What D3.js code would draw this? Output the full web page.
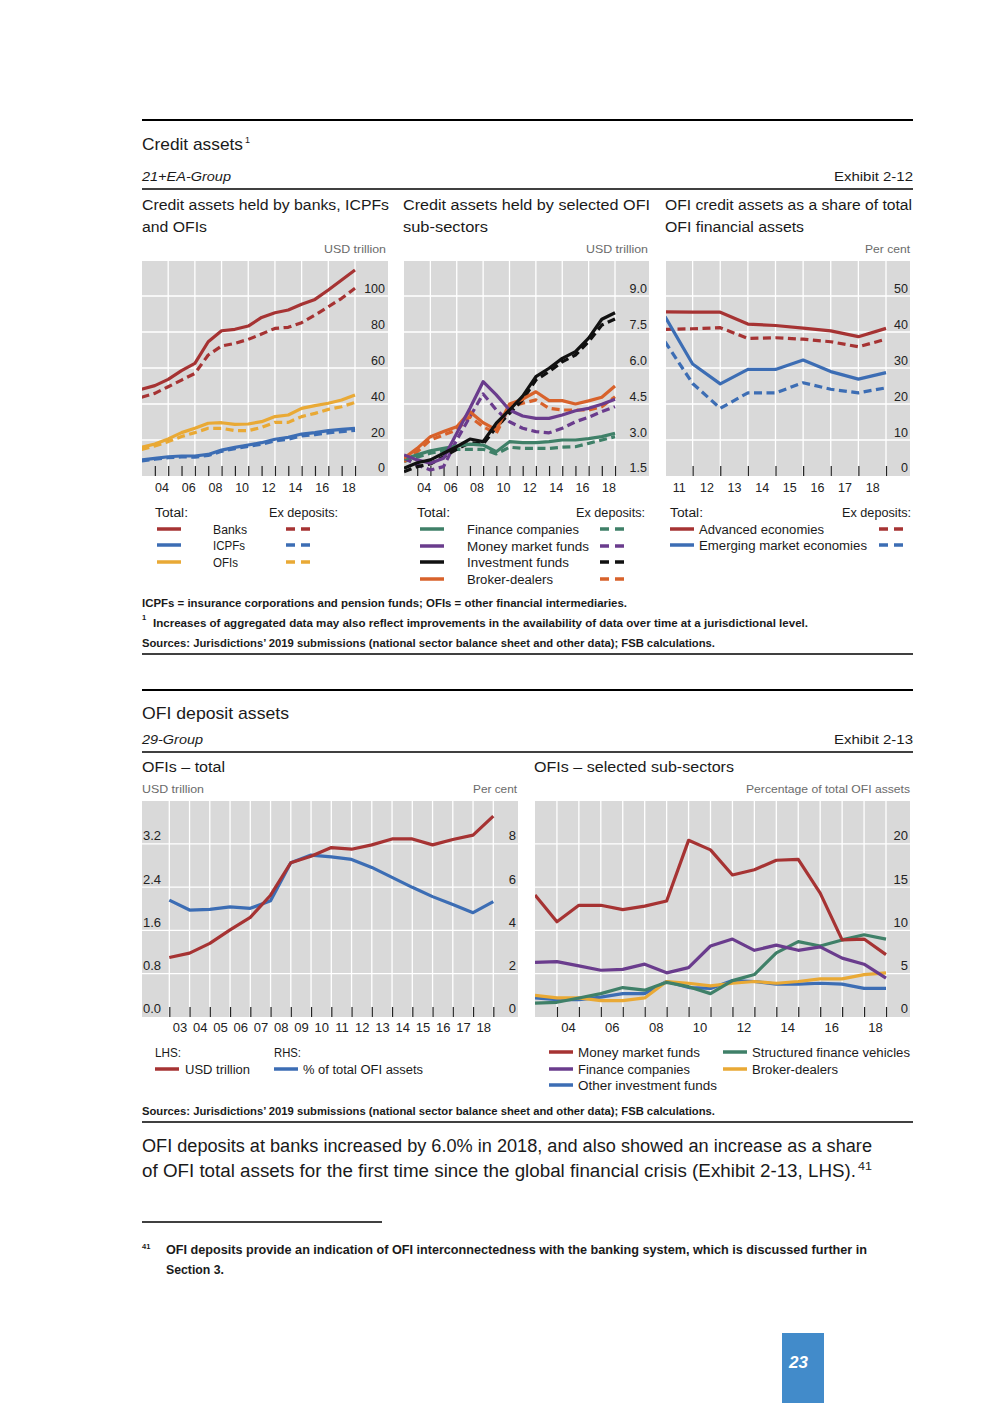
<!DOCTYPE html>
<html>
<head>
<meta charset="utf-8">
<script src="https://cdn.jsdelivr.net/npm/d3@7"></script>
<style>
  body { margin: 0; background: #fff; }
  text { font-family: "Liberation Sans", Arial, sans-serif; }
</style>
</head>
<body>
<svg id="page" width="992" height="1403"></svg>
<script>
// ---- Exhibit 2-12 data (USD trillion / per cent) ----
const years02 = [2002, 2003, 2004, 2005, 2006, 2007, 2008, 2009, 2010, 2011, 2012, 2013, 2014, 2015, 2016, 2017, 2018];
const years10 = [2010, 2011, 2012, 2013, 2014, 2015, 2016, 2017, 2018];

const banksTotal = [48.2, 50.2, 53.7, 58.5, 62.6, 74.6, 80.7, 81.5, 83.3, 88.1, 90.7, 92.2, 95.4, 98.1, 103.3, 108.9, 114.4];
const banksExDep = [43.7, 45.9, 49.6, 53.3, 57.0, 67.2, 72.2, 73.7, 75.9, 78.9, 82.0, 82.6, 85.2, 89.4, 94.0, 98.7, 104.3];
const icpfTotal  = [8.9, 9.8, 10.7, 11.1, 11.1, 12.0, 14.4, 15.9, 17.2, 18.5, 20.4, 21.5, 23.3, 24.1, 25.2, 25.9, 26.5];
const icpfExDep  = [8.4, 9.3, 10.2, 10.6, 10.5, 11.4, 13.7, 15.2, 16.4, 17.7, 19.5, 20.5, 22.3, 23.0, 24.0, 24.7, 25.3];
const ofiTotal   = [15.9, 17.8, 20.6, 24.1, 26.5, 29.3, 29.6, 28.7, 28.9, 30.2, 33.0, 33.9, 37.6, 39.1, 40.4, 42.2, 45.0];
const ofiExDep   = [14.8, 16.7, 19.1, 21.9, 24.1, 26.5, 26.5, 25.2, 25.2, 27.0, 29.8, 29.8, 33.0, 34.8, 37.0, 38.5, 40.9];

const finCoTotal = [2.20, 2.38, 2.55, 2.65, 2.75, 2.83, 2.79, 2.51, 2.93, 2.89, 2.89, 2.93, 3.00, 3.00, 3.06, 3.14, 3.28];
const finCoExDep = [2.10, 2.28, 2.45, 2.55, 2.61, 2.61, 2.61, 2.42, 2.70, 2.65, 2.65, 2.65, 2.70, 2.72, 2.86, 3.00, 3.14];
const mmfTotal   = [2.38, 2.17, 2.03, 2.24, 3.28, 4.32, 5.43, 4.88, 4.25, 4.00, 3.90, 3.90, 4.04, 4.22, 4.32, 4.49, 4.70];
const mmfExDep   = [2.24, 1.96, 1.75, 1.89, 3.00, 3.97, 4.92, 4.25, 3.76, 3.49, 3.35, 3.30, 3.49, 3.76, 3.95, 4.18, 4.39];
const invTotal   = [1.82, 2.05, 2.17, 2.45, 2.72, 3.04, 2.93, 3.70, 4.25, 4.83, 5.64, 5.99, 6.40, 6.68, 7.24, 8.03, 8.30];
const invExDep   = [1.68, 1.89, 2.00, 2.30, 2.61, 2.89, 2.83, 3.53, 4.11, 4.67, 5.50, 5.85, 6.26, 6.54, 7.10, 7.79, 8.04];
const bdTotal    = [2.24, 2.65, 3.14, 3.35, 3.55, 4.18, 3.72, 3.42, 4.50, 4.70, 5.01, 4.64, 4.64, 4.50, 4.63, 4.78, 5.25];
const bdExDep    = [2.10, 2.51, 3.00, 3.21, 3.42, 3.97, 3.55, 3.28, 4.39, 4.53, 4.67, 4.32, 4.25, 4.25, 4.25, 4.39, 4.80];

const aeTotal  = [45.6, 45.5, 45.5, 42.2, 41.8, 41.1, 40.3, 38.7, 41.0];
const aeExDep  = [40.7, 40.9, 41.2, 38.2, 38.4, 38.0, 37.3, 35.9, 38.0];
const emeTotal = [44.3, 31.1, 25.6, 29.6, 29.6, 32.2, 29.0, 26.9, 28.7];
const emeExDep = [37.3, 25.7, 18.8, 23.1, 23.1, 25.9, 24.1, 23.1, 24.5];

// ---- Exhibit 2-13 data ----
const ofiDepUsd   = [1.10, 1.18, 1.36, 1.61, 1.84, 2.25, 2.85, 2.97, 3.13, 3.10, 3.18, 3.29, 3.29, 3.18, 3.28, 3.36, 3.71];
const ofiDepShare = [5.40, 4.94, 4.97, 5.09, 5.02, 5.37, 7.13, 7.48, 7.40, 7.28, 6.91, 6.45, 5.99, 5.56, 5.20, 4.82, 5.33];

const subMmf = [14.1, 11.0, 12.9, 12.9, 12.4, 12.8, 13.4, 20.4, 19.3, 16.4, 17.0, 18.1, 18.2, 14.3, 8.9, 9.0, 7.2];
const subFin = [6.3, 6.4, 5.9, 5.4, 5.5, 6.1, 5.1, 5.7, 8.2, 9.0, 7.7, 8.3, 7.7, 8.1, 6.8, 6.1, 4.5];
const subSfv = [1.6, 1.7, 2.2, 2.7, 3.4, 3.1, 4.0, 3.5, 2.7, 4.2, 4.9, 7.4, 8.7, 8.2, 8.9, 9.5, 9.0];
const subBd  = [2.5, 2.2, 2.2, 1.9, 1.9, 2.2, 4.1, 3.9, 3.6, 3.9, 4.1, 3.9, 4.1, 4.4, 4.4, 4.9, 5.1];
const subOif = [2.2, 2.0, 2.0, 2.3, 2.7, 2.7, 4.1, 3.4, 3.3, 4.2, 4.1, 3.8, 3.8, 3.9, 3.8, 3.3, 3.3];

const ticks1 = [0, 20, 40, 60, 80, 100];
const ticks2 = [1.5, 3.0, 4.5, 6.0, 7.5, 9.0];
const ticks3 = [0, 10, 20, 30, 40, 50];
const ticks4L = [0, 0.8, 1.6, 2.4, 3.2];
const ticks4R = [0, 2, 4, 6, 8];
const ticks5 = [0, 5, 10, 15, 20];

const C = {
  red: "#a63333", blue: "#3c6db4", gold: "#e9a935", green: "#3f8068",
  purple: "#6a3c8d", black: "#111111", orange: "#d8622b", bg: "#d9d9d9"
};

const svg = d3.select("#page");

function txt(x, y, s, o = {}) {
  const t = svg.append("text").attr("x", x).attr("y", y)
    .attr("font-size", o.size || 12)
    .attr("fill", o.fill || "#1a1a1a")
    .attr("text-anchor", o.anchor || "start")
    .text(s);
  if (o.weight) t.attr("font-weight", o.weight);
  if (o.italic) t.attr("font-style", "italic");
  if (o.len) t.attr("textLength", o.len).attr("lengthAdjust", "spacingAndGlyphs");
  return t;
}
function rule(x1, x2, y, w) {
  svg.append("line").attr("x1", x1).attr("x2", x2).attr("y1", y).attr("y2", y)
    .attr("stroke", "#000").attr("stroke-width", w);
}
function swatch(x, y, color, dashed) {
  svg.append("line").attr("x1", x).attr("x2", x + 24).attr("y1", y).attr("y2", y)
    .attr("stroke", color).attr("stroke-width", 3.5)
    .attr("stroke-dasharray", dashed ? "9,6" : null);
}

let clipId = 0;
function panel(p) {
  const g = svg.append("g");
  const x = d3.scaleLinear().domain(p.xDomain).range(p.xRange);
  const y = d3.scaleLinear().domain(p.yDomain).range([p.bottom, p.yTop]);
  const y2 = p.y2Domain ? d3.scaleLinear().domain(p.y2Domain).range([p.bottom, p.yTop]) : null;

  g.append("rect").attr("x", p.left).attr("y", p.top)
    .attr("width", p.right - p.left).attr("height", p.bottom - p.top).attr("fill", C.bg);

  g.selectAll(".hg").data(p.yTicks.filter(v => v !== p.yDomain[0])).join("line")
    .attr("x1", p.left).attr("x2", p.right)
    .attr("y1", d => y(d)).attr("y2", d => y(d))
    .attr("stroke", "#fff").attr("stroke-width", 1.3);
  g.selectAll(".vg").data(p.gridYears).join("line")
    .attr("x1", d => x(d)).attr("x2", d => x(d))
    .attr("y1", p.top).attr("y2", p.bottom)
    .attr("stroke", "#fff").attr("stroke-width", 1.3);

  // year ticks, drawn upward from the bottom edge
  g.append("g").attr("transform", `translate(0,${p.bottom})`)
    .call(d3.axisBottom(x).tickValues(p.tickYears).tickSize(-10).tickFormat(""))
    .call(a => a.select(".domain").remove())
    .call(a => a.selectAll("line").attr("stroke", "#222").attr("stroke-width", 1.2));

  // year labels centred between ticks
  g.append("g").attr("transform", `translate(0,${p.bottom})`)
    .call(d3.axisBottom(x).tickValues(p.labelYears.map(d => d - 0.5)).tickSize(0)
      .tickPadding(p.labelPad).tickFormat(d => String((d + 0.5) % 100).padStart(2, "0")))
    .call(a => a.select(".domain").remove())
    .call(a => a.selectAll("text").attr("font-size", p.fontSize)
      .attr("font-family", '"Liberation Sans", Arial, sans-serif').attr("fill", "#222"));

  // value labels
  g.selectAll(".yl").data(p.yTicks).join("text")
    .attr("x", p.yLabelX).attr("y", d => y(d) - (d === p.yDomain[0] ? 4.5 : 3.5))
    .attr("text-anchor", p.yLabelAnchor || "end")
    .attr("font-size", p.fontSize).attr("fill", "#222")
    .text(p.yFmt);
  if (y2) {
    g.selectAll(".yl2").data(p.y2Ticks).join("text")
      .attr("x", p.y2LabelX).attr("y", d => y2(d) - (d === p.y2Domain[0] ? 4.5 : 3.5))
      .attr("text-anchor", "end")
      .attr("font-size", p.fontSize).attr("fill", "#222")
      .text(d => d);
  }

  const id = "clip" + (clipId++);
  svg.append("clipPath").attr("id", id).append("rect")
    .attr("x", p.left).attr("y", p.top).attr("width", p.right - p.left).attr("height", p.bottom - p.top);
  const lines = g.append("g").attr("clip-path", `url(#${id})`);
  p.series.forEach(s => {
    const ys = s.axis === 2 ? y2 : y;
    const line = d3.line().x((d, i) => x(p.years[i])).y(d => ys(d));
    lines.append("path").datum(s.data)
      .attr("d", line)
      .attr("fill", "none")
      .attr("stroke", s.color)
      .attr("stroke-width", 3.2)
      .attr("stroke-linejoin", "round")
      .attr("stroke-dasharray", s.dash ? "8,4.5" : null);
  });
}

// ================= Exhibit 2-12 =================
rule(142, 913, 120, 2);
txt(142, 150, "Credit assets", { size: 17, len: 101 });
txt(245, 143, "1", { size: 9 });
txt(142, 181, "21+EA-Group", { size: 13.5, italic: true, len: 89 });
txt(913, 181, "Exhibit 2-12", { size: 13.5, anchor: "end", len: 79 });
rule(142, 913, 189, 1.5);

txt(142, 210, "Credit assets held by banks, ICPFs", { size: 15.5, len: 247 });
txt(142, 232, "and OFIs", { size: 15.5, len: 65 });
txt(403, 210, "Credit assets held by selected OFI", { size: 15.5, len: 247 });
txt(403, 232, "sub-sectors", { size: 15.5, len: 85 });
txt(665, 210, "OFI credit assets as a share of total", { size: 15.5, len: 247 });
txt(665, 232, "OFI financial assets", { size: 15.5, len: 139 });

txt(386, 253, "USD trillion", { size: 11.5, anchor: "end", fill: "#6b6b6b", len: 62 });
txt(648, 253, "USD trillion", { size: 11.5, anchor: "end", fill: "#6b6b6b", len: 62 });
txt(910, 253, "Per cent", { size: 11.5, anchor: "end", fill: "#6b6b6b", len: 45 });

panel({
  left: 142, right: 388, top: 261, bottom: 476, yTop: 260,
  xDomain: [2002, 2018], xRange: [141.5, 355], years: years02,
  yDomain: [0, 120], yTicks: ticks1, yFmt: d => d, yLabelX: 385,
  gridYears: [2004, 2006, 2008, 2010, 2012, 2014, 2016, 2018],
  tickYears: years02.slice(1),
  labelYears: [2004, 2006, 2008, 2010, 2012, 2014, 2016, 2018],
  labelPad: 7.5, fontSize: 12.5,
  series: [
    { data: icpfExDep, color: C.blue, dash: true },
    { data: ofiExDep, color: C.gold, dash: true },
    { data: banksExDep, color: C.red, dash: true },
    { data: icpfTotal, color: C.blue },
    { data: ofiTotal, color: C.gold },
    { data: banksTotal, color: C.red }
  ]
});

panel({
  left: 404, right: 649, top: 261, bottom: 476, yTop: 260,
  xDomain: [2002, 2018], xRange: [404, 615], years: years02,
  yDomain: [1.5, 10.5], yTicks: ticks2, yFmt: d => d.toFixed(1), yLabelX: 647,
  gridYears: [2004, 2006, 2008, 2010, 2012, 2014, 2016, 2018],
  tickYears: years02.slice(1),
  labelYears: [2004, 2006, 2008, 2010, 2012, 2014, 2016, 2018],
  labelPad: 7.5, fontSize: 12.5,
  series: [
    { data: finCoExDep, color: C.green, dash: true },
    { data: bdExDep, color: C.orange, dash: true },
    { data: mmfExDep, color: C.purple, dash: true },
    { data: invExDep, color: C.black, dash: true },
    { data: finCoTotal, color: C.green },
    { data: bdTotal, color: C.orange },
    { data: mmfTotal, color: C.purple },
    { data: invTotal, color: C.black }
  ]
});

panel({
  left: 666, right: 910, top: 261, bottom: 476, yTop: 260,
  xDomain: [2010, 2018], xRange: [665, 886], years: years10,
  yDomain: [0, 60], yTicks: ticks3, yFmt: d => d, yLabelX: 908,
  gridYears: years10.slice(1), tickYears: years10.slice(1), labelYears: years10.slice(1),
  labelPad: 7.5, fontSize: 12.5,
  series: [
    { data: aeExDep, color: C.red, dash: true },
    { data: emeExDep, color: C.blue, dash: true },
    { data: aeTotal, color: C.red },
    { data: emeTotal, color: C.blue }
  ]
});

// legends
const LS = 12.5;
txt(155, 517, "Total:", { size: LS, len: 33 });
txt(269, 517, "Ex deposits:", { size: LS, len: 69 });
[["Banks", C.red, 529, 34], ["ICPFs", C.blue, 545, 32], ["OFIs", C.gold, 562, 25]].forEach(([n, c, yy, w]) => {
  swatch(157, yy, c, false);
  txt(213, yy + 4.5, n, { size: LS, len: w });
  swatch(286, yy, c, true);
});
txt(417, 517, "Total:", { size: LS, len: 33 });
txt(645, 517, "Ex deposits:", { size: LS, anchor: "end", len: 69 });
[["Finance companies", C.green, 529, 112], ["Money market funds", C.purple, 546, 122],
 ["Investment funds", C.black, 562, 102], ["Broker-dealers", C.orange, 579, 86]].forEach(([n, c, yy, w]) => {
  swatch(420, yy, c, false);
  txt(467, yy + 4.5, n, { size: LS, len: w });
  swatch(600, yy, c, true);
});
txt(670, 517, "Total:", { size: LS, len: 33 });
txt(911, 517, "Ex deposits:", { size: LS, anchor: "end", len: 69 });
[["Advanced economies", C.red, 529, 125], ["Emerging market economies", C.blue, 545, 168]].forEach(([n, c, yy, w]) => {
  swatch(670, yy, c, false);
  txt(699, yy + 4.5, n, { size: LS, len: w });
  swatch(879, yy, c, true);
});

txt(142, 607, "ICPFs = insurance corporations and pension funds; OFIs = other financial intermediaries.", { size: 11, weight: 600, len: 485 });
txt(142, 620, "1", { size: 7.5, weight: 600 });
txt(153, 627, "Increases of aggregated data may also reflect improvements in the availability of data over time at a jurisdictional level.", { size: 11, weight: 600, len: 655 });
txt(142, 647, "Sources: Jurisdictions’ 2019 submissions (national sector balance sheet and other data); FSB calculations.", { size: 11, weight: 600, len: 573 });
rule(142, 913, 654, 1.5);

// ================= Exhibit 2-13 =================
rule(142, 913, 690, 2);
txt(142, 719, "OFI deposit assets", { size: 17, len: 147 });
txt(142, 744, "29-Group", { size: 13.5, italic: true, len: 61 });
txt(913, 744, "Exhibit 2-13", { size: 13.5, anchor: "end", len: 79 });
rule(142, 913, 752, 1.5);
txt(142, 772, "OFIs – total", { size: 15.5, len: 83 });
txt(534, 772, "OFIs – selected sub-sectors", { size: 15.5, len: 200 });
txt(142, 793, "USD trillion", { size: 11.5, fill: "#6b6b6b", len: 62 });
txt(517, 793, "Per cent", { size: 11.5, anchor: "end", fill: "#6b6b6b", len: 44 });
txt(910, 793, "Percentage of total OFI assets", { size: 11.5, anchor: "end", fill: "#6b6b6b", len: 164 });

panel({
  left: 142, right: 518, top: 801, bottom: 1017, yTop: 800.5,
  xDomain: [2002, 2018], xRange: [169.3, 493.3], years: years02,
  yDomain: [0, 4], yTicks: ticks4L, yFmt: d => d.toFixed(1), yLabelX: 143, yLabelAnchor: "start",
  y2Domain: [0, 10], y2Ticks: ticks4R, y2LabelX: 516,
  gridYears: years02, tickYears: years02, labelYears: years02.slice(1),
  labelPad: 5.5, fontSize: 13,
  series: [
    { data: ofiDepShare, color: C.blue, axis: 2 },
    { data: ofiDepUsd, color: C.red }
  ]
});

panel({
  left: 535, right: 910, top: 801, bottom: 1017, yTop: 800.5,
  xDomain: [2002, 2018], xRange: [535, 886], years: years02,
  yDomain: [0, 25], yTicks: ticks5, yFmt: d => d, yLabelX: 908,
  gridYears: years02.slice(1), tickYears: years02.slice(1),
  labelYears: [2004, 2006, 2008, 2010, 2012, 2014, 2016, 2018],
  labelPad: 5.5, fontSize: 13,
  series: [
    { data: subOif, color: C.blue },
    { data: subBd, color: C.gold },
    { data: subSfv, color: C.green },
    { data: subFin, color: C.purple },
    { data: subMmf, color: C.red }
  ]
});

txt(155, 1057, "LHS:", { size: LS, len: 26 });
txt(274, 1057, "RHS:", { size: LS, len: 27 });
swatch(155, 1069, C.red, false);
txt(185, 1073.5, "USD trillion", { size: LS, len: 65 });
swatch(274, 1069, C.blue, false);
txt(303, 1073.5, "% of total OFI assets", { size: LS, len: 120 });

[["Money market funds", C.red, 549, 578, 1052, 122], ["Structured finance vehicles", C.green, 723, 752, 1052, 158],
 ["Finance companies", C.purple, 549, 578, 1069, 112], ["Broker-dealers", C.gold, 723, 752, 1069, 86],
 ["Other investment funds", C.blue, 549, 578, 1085, 139]].forEach(([n, c, sx, tx, yy, w]) => {
  swatch(sx, yy, c, false);
  txt(tx, yy + 4.5, n, { size: LS, len: w });
});

txt(142, 1115, "Sources: Jurisdictions’ 2019 submissions (national sector balance sheet and other data); FSB calculations.", { size: 11, weight: 600, len: 573 });
rule(142, 913, 1122, 1.5);

// body text
txt(142, 1152, "OFI deposits at banks increased by 6.0% in 2018, and also showed an increase as a share", { size: 18, len: 730 });
txt(142, 1177, "of OFI total assets for the first time since the global financial crisis (Exhibit 2-13, LHS).", { size: 18, len: 714 });
txt(858, 1170, "41", { size: 10.5, len: 14 });

rule(142, 382, 1222, 1.5);
txt(142, 1249, "41", { size: 7.5, weight: 700 });
txt(166, 1254, "OFI deposits provide an indication of OFI interconnectedness with the banking system, which is discussed further in", { size: 12, weight: 600, len: 701 });
txt(166, 1274, "Section 3.", { size: 12, weight: 600, len: 58 });

// page number
svg.append("rect").attr("x", 782).attr("y", 1333).attr("width", 42).attr("height", 70).attr("fill", "#428bca");
txt(798.5, 1368, "23", { size: 17, weight: 700, italic: true, fill: "#fff", anchor: "middle" });
</script>
</body>
</html>
